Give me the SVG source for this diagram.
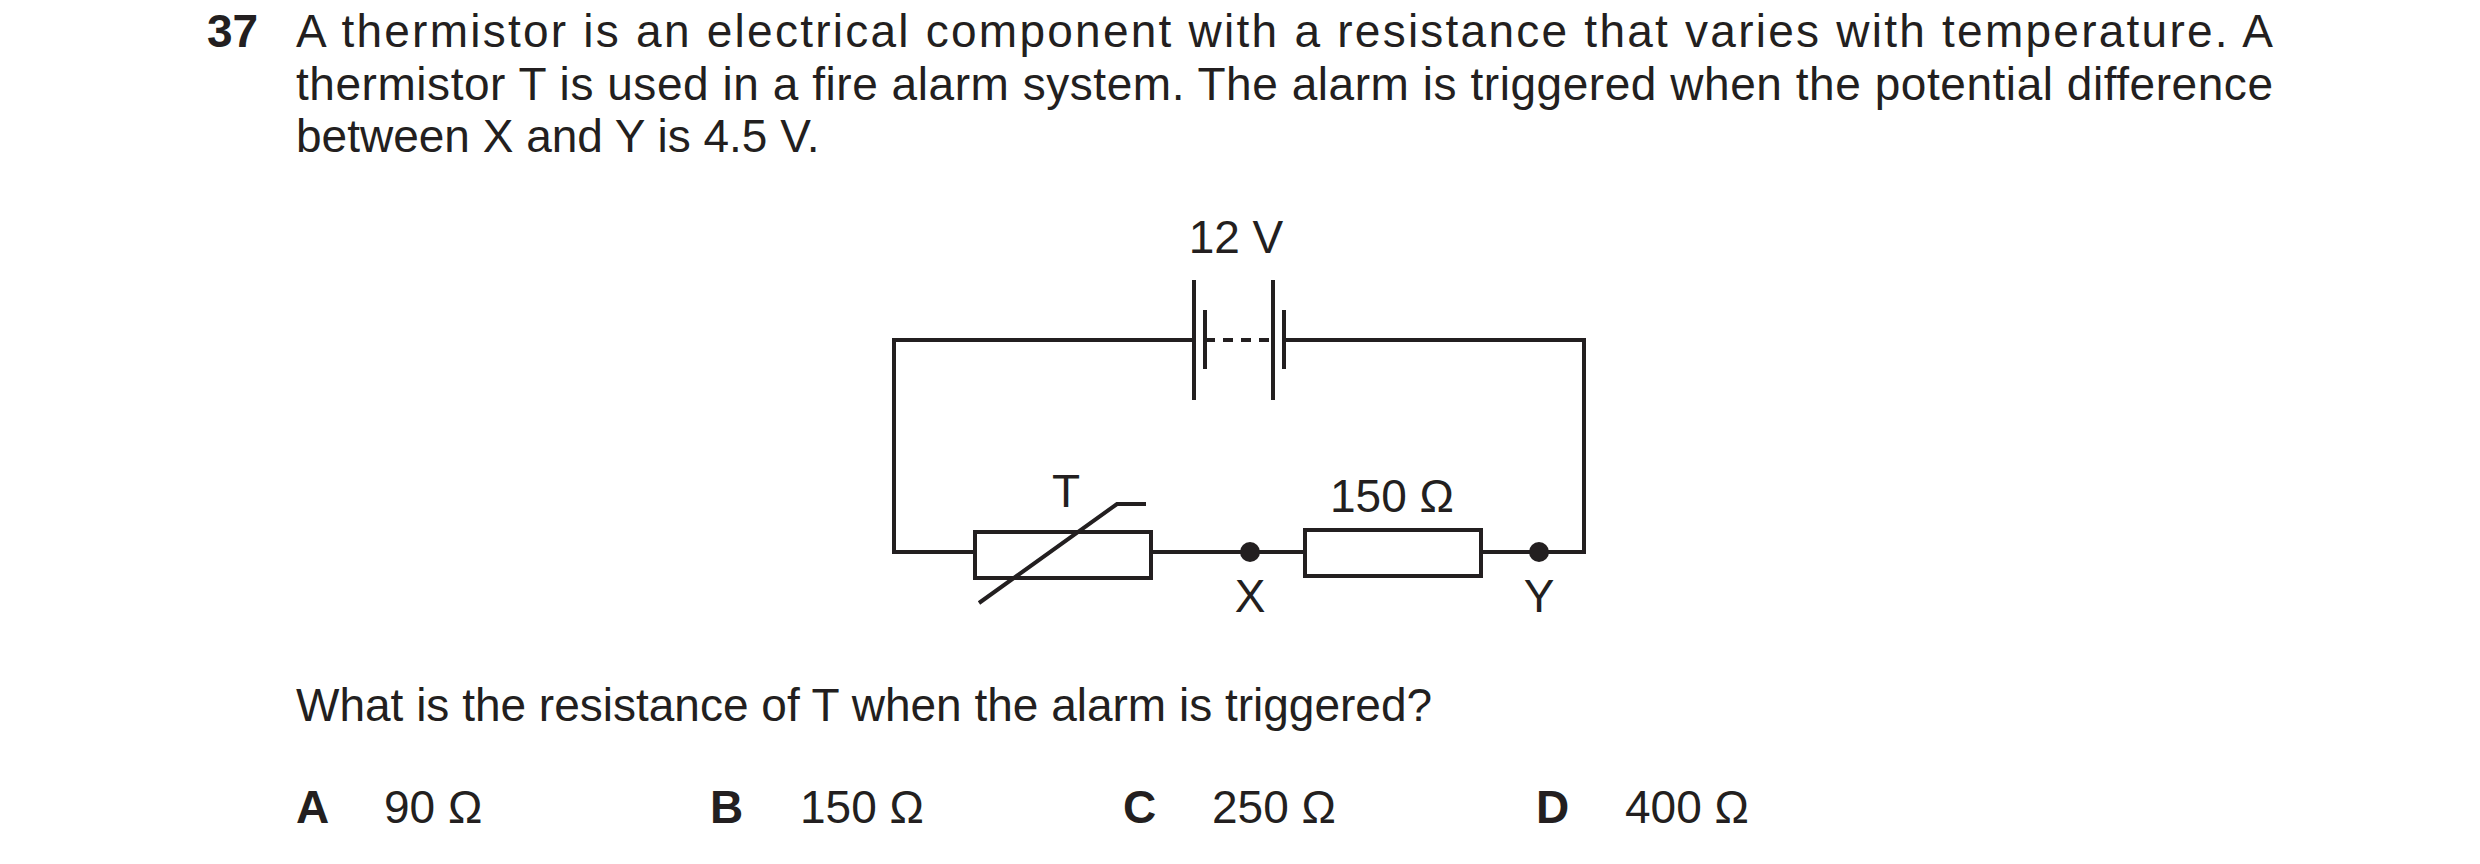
<svg xmlns="http://www.w3.org/2000/svg" width="2480" height="864" viewBox="0 0 2480 864">
<style>
text{font-family:"Liberation Sans",Arial,sans-serif;font-size:46px;fill:#231f20}
.b{font-weight:bold}
.c{text-anchor:middle}
.w{fill:none;stroke:#231f20;stroke-width:4}
</style>
<rect width="2480" height="864" fill="#fff"/>
<g id="question">
<text class="b" x="207" y="47">37</text>
<text x="296" y="47" textLength="1977" lengthAdjust="spacing">A thermistor is an electrical component with a resistance that varies with temperature. A</text>
<text x="296" y="100" textLength="1977" lengthAdjust="spacing">thermistor T is used in a fire alarm system. The alarm is triggered when the potential difference</text>
<text x="296" y="152">between X and Y is 4.5 V.</text>
<text x="296" y="721">What is the resistance of T when the alarm is triggered?</text>
<text class="b" x="296" y="823">A</text><text x="384" y="823">90 Ω</text>
<text class="b" x="710" y="823">B</text><text x="800" y="823">150 Ω</text>
<text class="b" x="1123" y="823">C</text><text x="1212" y="823">250 Ω</text>
<text class="b" x="1536" y="823">D</text><text x="1625" y="823">400 Ω</text>
</g>
<g id="connectors">
<path class="w" d="M1194 340 H894 V552 H975 M1151 552 H1305 M1481 552 H1584 V340 H1284"/>
<path class="w" d="M1205 340 H1273" stroke-dasharray="10 8"/>
</g>
<g id="battery">
<path class="w" d="M1194 280 V400 M1205 310 V369 M1273 280 V400 M1284 310 V369"/>
<text class="c" x="1236" y="253">12 V</text>
</g>
<g id="thermistor">
<rect class="w" x="975" y="532" width="176" height="46"/>
<path class="w" d="M979 603 L1117 504 H1146"/>
<text class="c" x="1066" y="507">T</text>
</g>
<g id="resistor">
<rect class="w" x="1305" y="530" width="176" height="46"/>
<text class="c" x="1392" y="512">150 Ω</text>
</g>
<g id="X"><circle cx="1250" cy="552" r="10" fill="#231f20"/><text class="c" x="1250" y="612">X</text></g>
<g id="Y"><circle cx="1539" cy="552" r="10" fill="#231f20"/><text class="c" x="1539" y="612">Y</text></g>
</svg>
